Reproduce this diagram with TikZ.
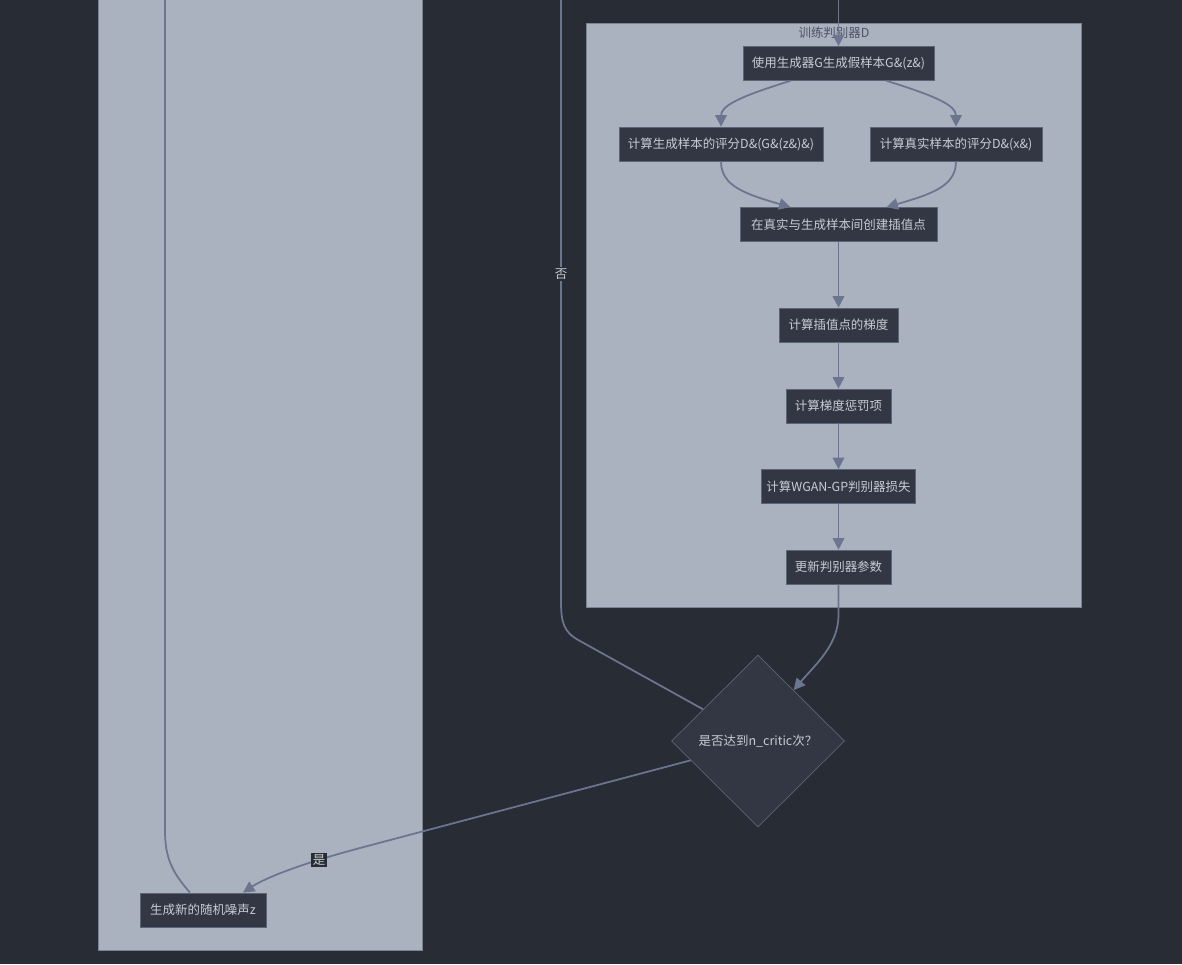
\documentclass[tikz,border=0pt]{standalone}
\usepackage{fontspec}
\setmainfont{Noto Sans CJK SC}
\usetikzlibrary{shapes.geometric,arrows.meta,calc}
\definecolor{bgdark}{HTML}{282C35}
\definecolor{clusterbg}{HTML}{AAB1BF}
\definecolor{clusterline}{HTML}{7C8396}
\definecolor{boxfill}{HTML}{333744}
\definecolor{boxline}{HTML}{5C6478}
\definecolor{edgecol}{HTML}{6B7590}
\definecolor{boxtext}{HTML}{C8CCD4}
\definecolor{titletext}{HTML}{4E5464}
\tikzset{
  box/.style={draw=boxline,fill=boxfill,text=boxtext,font=\fontsize{7.1}{9}\selectfont,
    minimum height=0.68cm,inner xsep=0.1cm},
  decision/.style={diamond,draw=boxline,fill=boxfill,text=boxtext,font=\fontsize{7.1}{9}\selectfont,
    minimum width=3.46cm,minimum height=3.44cm,inner sep=0pt},
  edgelabel/.style={fill=bgdark,text=boxtext,font=\fontsize{7.1}{9}\selectfont,inner sep=1pt},
  flow/.style={draw=edgecol,line width=1pt,-{Triangle[length=6.5pt,width=6.5pt]}},
  link/.style={draw=edgecol,line width=1pt},
}
\begin{document}
\begin{tikzpicture}[x=0.02cm,y=-0.02cm]
  \fill[bgdark] (0,0) rectangle (1182,964);
  \useasboundingbox (0,0) rectangle (1182,964);
  \clip (0,0) rectangle (1182,964);
  % clusters
  \draw[clusterline,fill=clusterbg] (98,-10) rectangle (422,950);
  \draw[clusterline,fill=clusterbg] (586,23) rectangle (1081,607);
  \node[text=titletext,font=\fontsize{7.1}{9}\selectfont] (title) at (834,33) {训练判别器D};
  % nodes
  \node[box,minimum width=3.82cm] (fake) at (838.5,63.5) {使用生成器G生成假样本G\&(z\&)};
  \node[box,minimum width=4.08cm] (scorefake) at (721,144) {计算生成样本的评分D\&(G\&(z\&)\&)};
  \node[box,minimum width=3.44cm] (scorereal) at (956,144) {计算真实样本的评分D\&(x\&)};
  \node[box,minimum width=3.94cm] (interp) at (838.5,224.5) {在真实与生成样本间创建插值点};
  \node[box,minimum width=2.38cm] (grad) at (838.5,325) {计算插值点的梯度};
  \node[box,minimum width=2.1cm] (penalty) at (838.5,406) {计算梯度惩罚项};
  \node[box,minimum width=3.02cm] (loss) at (838.5,486.5) {计算WGAN-GP判别器损失};
  \node[box,minimum width=2.1cm] (update) at (838.5,567) {更新判别器参数};
  \node[decision] (critic) at (758,741) {是否达到n\_critic次？};
  \node[box,minimum width=2.52cm] (noise) at (203,910) {生成新的随机噪声z};
  \coordinate (intop) at (838.5,-5);
  \coordinate (notop) at (561,-5);
  \coordinate (looptop) at (165,-5);
  % edges
  \draw[flow] (intop) -- (fake);
  \draw[flow] ($(fake.south)+(-48,0)$) .. controls (738,97) and (721,106) .. (scorefake.north);
  \draw[flow] ($(fake.south)+(48,0)$) .. controls (939,97) and (956,106) .. (scorereal.north);
  \draw[flow] (scorefake.south) .. controls (721,186) and (745,194) .. ($(interp.north)+(-48,0)$);
  \draw[flow] (scorereal.south) .. controls (956,186) and (932,194) .. ($(interp.north)+(48,0)$);
  \draw[flow] (interp) -- (grad);
  \draw[flow] (grad) -- (penalty);
  \draw[flow] (penalty) -- (loss);
  \draw[flow] (loss) -- (update);
  \draw[flow] (update.south) -- (838.5,615) .. controls (838.5,645) and (815,665) .. (critic.55);
  \draw[link] (critic.150) -- (580,641) .. controls (563,632) and (561,622) .. (561,600) -- (notop);
  \node[edgelabel] (nolabel) at (561,274) {否};
  \draw[flow] (critic.196) -- (360,848) .. controls (300,864) and (265,878) .. ($(noise.north)+(40,0)$);
  \node[edgelabel] (yeslabel) at (319,860) {是};
  \draw[link] ($(noise.north)+(-13,0)$) .. controls (172,872) and (165,858) .. (165,830) -- (looptop);
\end{tikzpicture}
\end{document}
